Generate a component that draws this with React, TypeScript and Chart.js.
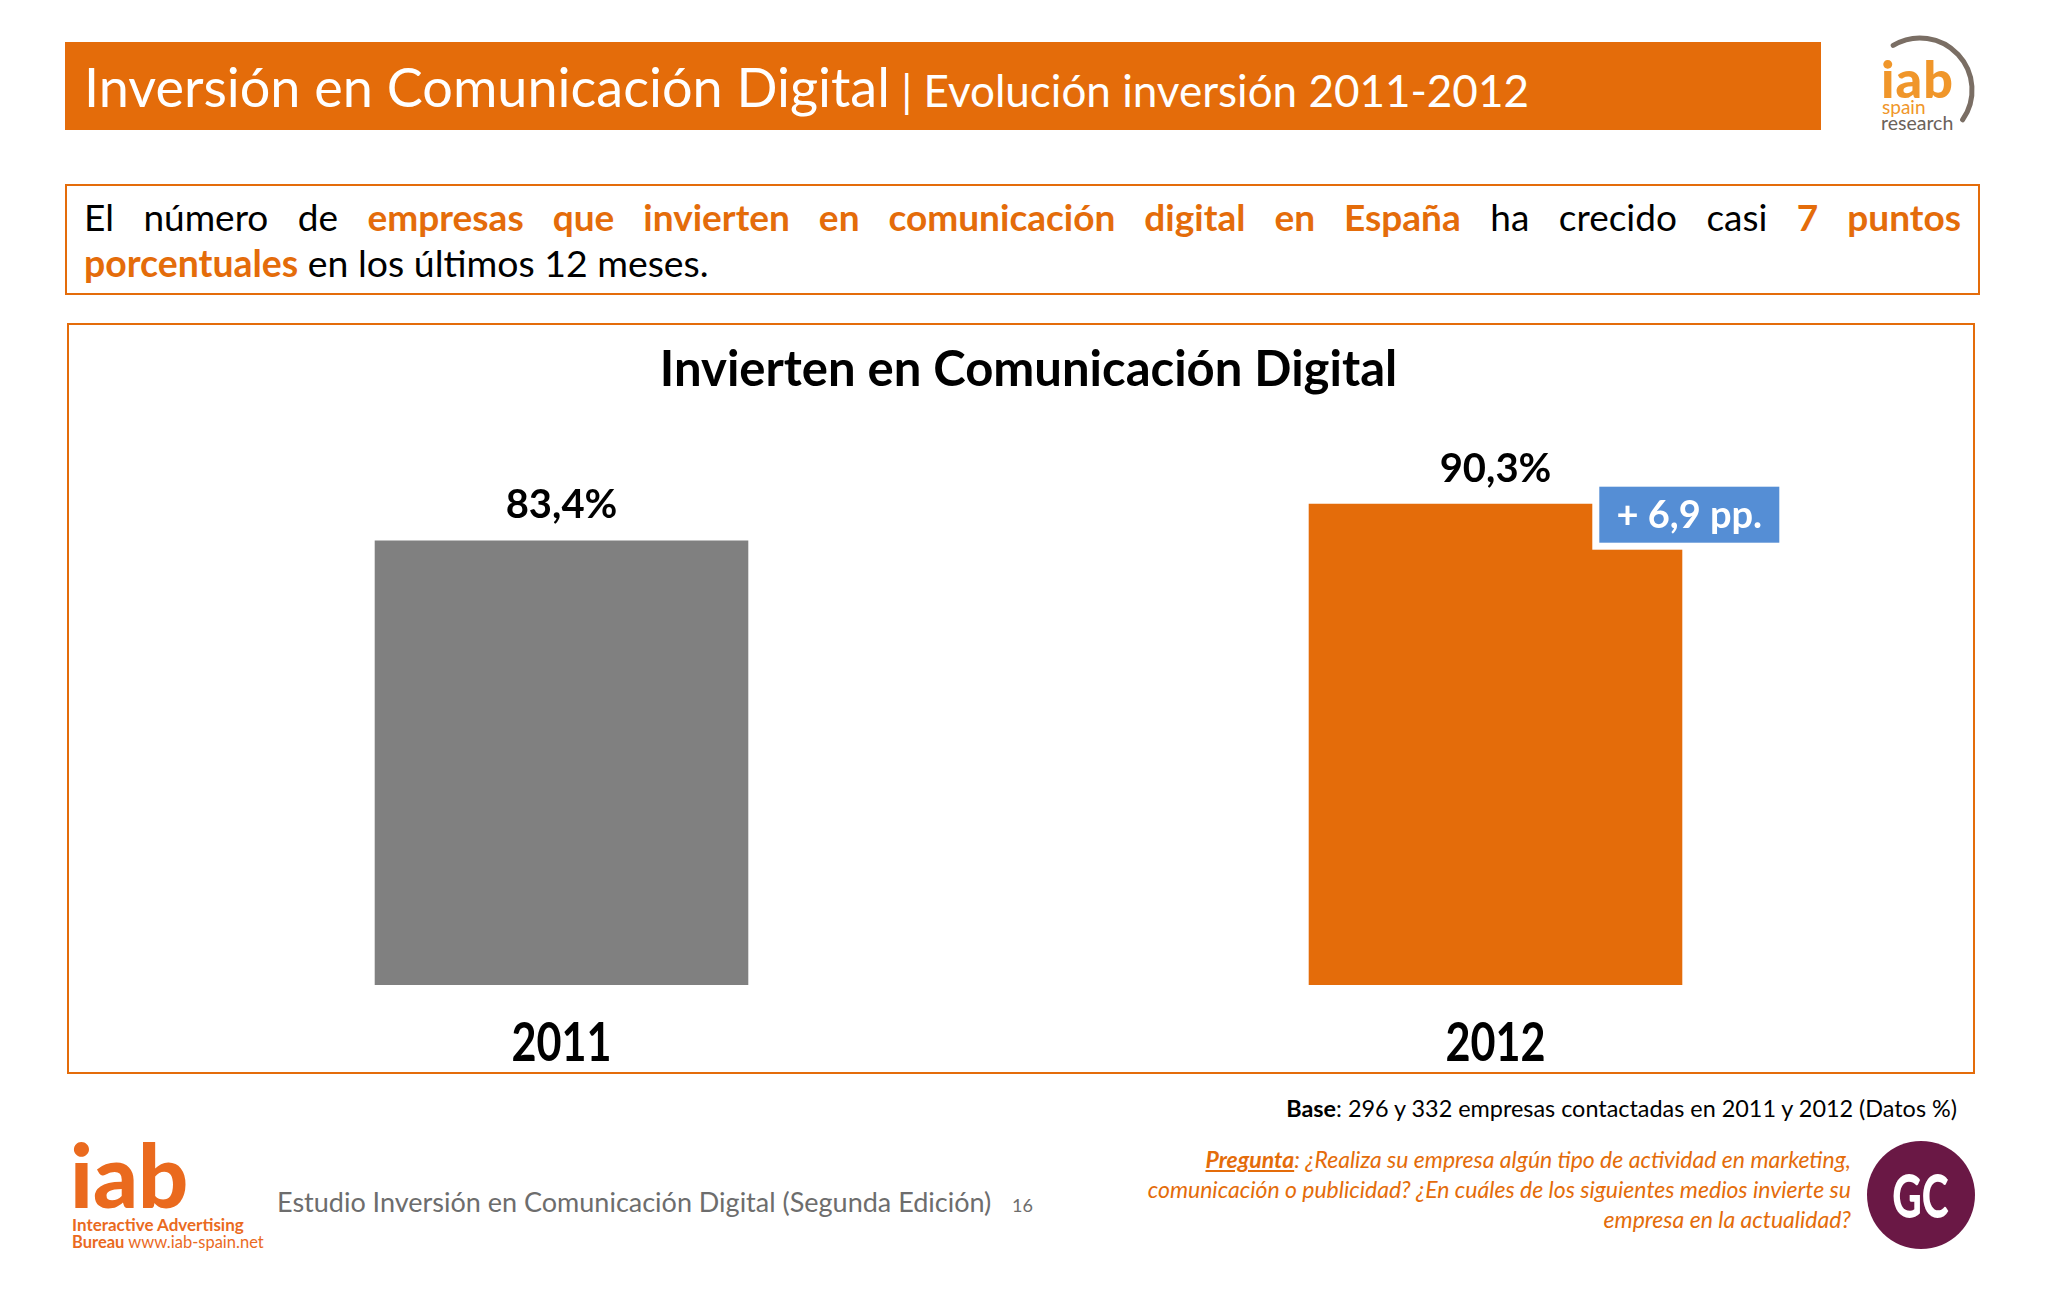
import React, { useEffect, useRef } from "react";
import { Chart, registerables } from "chart.js";

Chart.register(...registerables);

// ---- Data ----
const categories: string[] = ["2011", "2012"];
const values: number[] = [83.4, 90.3];
const barColors: string[] = ["#808080", "#E46C0A"];
const yMin = 0;
const yMax = 100;

const ORANGE = "#E46C0A";
const BLUE = "#558ED5";
const FONT = "Lato, 'Open Sans', sans-serif";

const fmt = (v: number) => v.toFixed(1).replace(".", ",");

const labelPlugin = {
  id: "valueLabels",
  afterDatasetsDraw(chart: any) {
    const ctx = chart.ctx as CanvasRenderingContext2D;
    const meta = chart.getDatasetMeta(0);
    const xScale = chart.scales.x;
    const area = chart.chartArea;
    ctx.save();
    // category labels (condensed look)
    ctx.fillStyle = "#000";
    ctx.textAlign = "center";
    ctx.textBaseline = "middle";
    ctx.font = `bold 54px ${FONT}`;
    categories.forEach((c, i) => {
      const px = xScale.getPixelForValue(i);
      ctx.save();
      ctx.translate(px, area.bottom + 59);
      ctx.scale(0.8, 1);
      ctx.fillText(c, 0, 0);
      ctx.restore();
    });
    // value labels
    meta.data.forEach((bar: any, i: number) => {
      ctx.font = `bold 40px ${FONT}`;
      ctx.fillStyle = "#000";
      ctx.textAlign = "center";
      ctx.textBaseline = "middle";
      ctx.fillText(fmt(values[i]) + "%", bar.x, bar.y - 35);
    });
    // delta callout attached to last bar
    const last: any = meta.data[meta.data.length - 1];
    const right = last.x + last.width / 2;
    const bw = 180;
    const bh = 56;
    const bl = right - 83;
    const bt = last.y - 17;
    ctx.fillStyle = "#ffffff";
    ctx.fillRect(bl - 7, bt, bw + 7, bh + 7);
    ctx.fillStyle = BLUE;
    ctx.fillRect(bl, bt, bw, bh);
    ctx.fillStyle = "#ffffff";
    ctx.font = `bold 38px ${FONT}`;
    ctx.textAlign = "center";
    ctx.textBaseline = "middle";
    const delta = values[values.length - 1] - values[0];
    ctx.fillText(`+ ${fmt(delta)} pp.`, bl + bw / 2, bt + bh / 2 + 1);
    ctx.restore();
  },
};

function BarChart() {
  const ref = useRef<HTMLCanvasElement | null>(null);
  useEffect(() => {
    if (!ref.current) return;
    const chart = new Chart(ref.current, {
      type: "bar",
      data: {
        labels: categories,
        datasets: [
          {
            data: values,
            backgroundColor: barColors,
            borderWidth: 0,
            categoryPercentage: 1,
            barPercentage: 0.4,
          },
        ],
      },
      options: {
        animation: false,
        responsive: false,
        maintainAspectRatio: false,
        layout: { padding: { left: 27.5, right: 12.5, top: 0, bottom: 89 } },
        plugins: {
          legend: { display: false },
          tooltip: { enabled: false },
          title: {
            display: true,
            text: "Invierten en Comunicación Digital",
            color: "#000",
            font: { family: FONT, size: 49, weight: "bold" },
            padding: { top: 17.6, bottom: 52.6 },
          },
        },
        scales: {
          x: { display: false },
          y: { display: false, min: yMin, max: yMax },
        },
      } as any,
      plugins: [labelPlugin],
    });
    return () => chart.destroy();
  }, []);
  return (
    <canvas
      ref={ref}
      width={1908}
      height={751}
      style={{ position: "absolute", left: 67, top: 323, width: 1908, height: 751 }}
    />
  );
}

function T(props: {
  x?: number;
  right?: number;
  y: number;
  size: number;
  color?: string;
  weight?: any;
  italic?: boolean;
  family?: string;
  spacing?: number;
  children: any;
}) {
  const { x, right, y, size, color = "#000", weight = 400, italic, family = FONT, spacing, children } = props;
  const style: React.CSSProperties = {
    position: "absolute",
    top: y - 0.887 * size,
    fontSize: size,
    lineHeight: `${size}px`,
    color,
    fontWeight: weight,
    fontStyle: italic ? "italic" : "normal",
    fontFamily: family,
    whiteSpace: "nowrap",
  };
  if (spacing !== undefined) style.letterSpacing = spacing;
  if (x !== undefined) style.left = x;
  if (right !== undefined) {
    style.right = 2048 - right;
    style.textAlign = "right";
  }
  return <div style={style}>{children}</div>;
}

export default function App() {
  return (
    <div
      style={{
        position: "absolute",
        left: 0,
        top: 0,
        width: 2048,
        height: 1297,
        background: "#fff",
        overflow: "hidden",
        fontFamily: FONT,
      }}
    >
      {/* Header */}
      <div style={{ position: "absolute", left: 65, top: 42, width: 1756, height: 88, background: ORANGE }} />
      <T x={84} y={108} size={54} color="#fff">
        Inversión en Comunicación Digital
        <span style={{ fontSize: 44 }}> | Evolución inversión 2011-2012</span>
      </T>

      {/* top-right logo */}
      <svg style={{ position: "absolute", left: 1860, top: 30 }} width={140} height={120}>
        <path
          d="M 33.2 15.4 A 52 52 0 0 1 102.6 89.8"
          fill="none"
          stroke="#7a6e64"
          strokeWidth={5}
          strokeLinecap="round"
        />
      </svg>
      <T x={1881} y={98} size={52} color="#F0962A" weight={900} spacing={1}>iab</T>
      <T x={1882} y={114} size={19} color="#F0962A">spain</T>
      <T x={1881} y={130} size={19.5} color="#6b6259">research</T>

      {/* Subtitle box */}
      <div
        style={{
          position: "absolute",
          left: 65,
          top: 184,
          width: 1915,
          height: 111,
          border: `2px solid ${ORANGE}`,
          boxSizing: "border-box",
        }}
      />
      <div
        style={{
          position: "absolute",
          left: 84,
          top: 231 - 0.887 * 37,
          width: 1877,
          fontSize: 37,
          lineHeight: "37px",
          textAlign: "justify",
          textAlignLast: "justify",
          color: "#000",
          fontFamily: FONT,
        }}
      >
        El número de{" "}
        <b style={{ color: ORANGE }}>empresas que invierten en comunicación digital en España</b> ha crecido casi{" "}
        <b style={{ color: ORANGE }}>7 puntos</b>
      </div>
      <T x={84} y={277} size={37.4}>
        <b style={{ color: ORANGE }}>porcentuales</b> en los últimos 12 meses.
      </T>

      {/* Chart box */}
      <div
        style={{
          position: "absolute",
          left: 67,
          top: 323,
          width: 1908,
          height: 751,
          border: `2px solid ${ORANGE}`,
          boxSizing: "border-box",
        }}
      />
      <BarChart />

      {/* Base */}
      <T right={1957} y={1118} size={23.4}>
        <b>Base</b>: 296 y 332 empresas contactadas en 2011 y 2012 (Datos %)
      </T>

      {/* Pregunta */}
      <div
        style={{
          position: "absolute",
          right: 2048 - 1851,
          top: 1168 - 0.887 * 23 - 3.5,
          fontSize: 23,
          lineHeight: "30px",
          textAlign: "right",
          color: ORANGE,
          fontStyle: "italic",
          fontFamily: FONT,
          whiteSpace: "nowrap",
        }}
      >
        <b style={{ textDecoration: "underline" }}>Pregunta</b>: ¿Realiza su empresa algún tipo de actividad en marketing,
        <br />
        comunicación o publicidad? ¿En cuáles de los siguientes medios invierte su
        <br />
        empresa en la actualidad?
      </div>

      {/* GC badge */}
      <div
        style={{
          position: "absolute",
          left: 1867,
          top: 1141,
          width: 108,
          height: 108,
          borderRadius: "50%",
          background: "#6A1845",
          color: "#fff",
          fontFamily: FONT,
          fontWeight: 900,
          fontSize: 60,
          lineHeight: "108px",
          textAlign: "center",
        }}
      >
        <span style={{ display: "inline-block", transform: "scaleX(0.68)" }}>GC</span>
      </div>

      {/* Footer logo */}
      <T x={70} y={1208} size={88} color="#EA6A1E" weight={900}>iab</T>
      <T x={72} y={1231} size={17} color="#EA6A1E" weight={700}>Interactive Advertising</T>
      <T x={72} y={1249} size={16.5} color="#EA6A1E">
        <b>Bureau</b> www.iab-spain.net
      </T>

      {/* Footer text */}
      <T x={277} y={1212} size={27} color="#6d6d6d">
        Estudio Inversión en Comunicación Digital (Segunda Edición)
      </T>
      <T x={1012} y={1212} size={18} color="#6d6d6d">16</T>
    </div>
  );
}
